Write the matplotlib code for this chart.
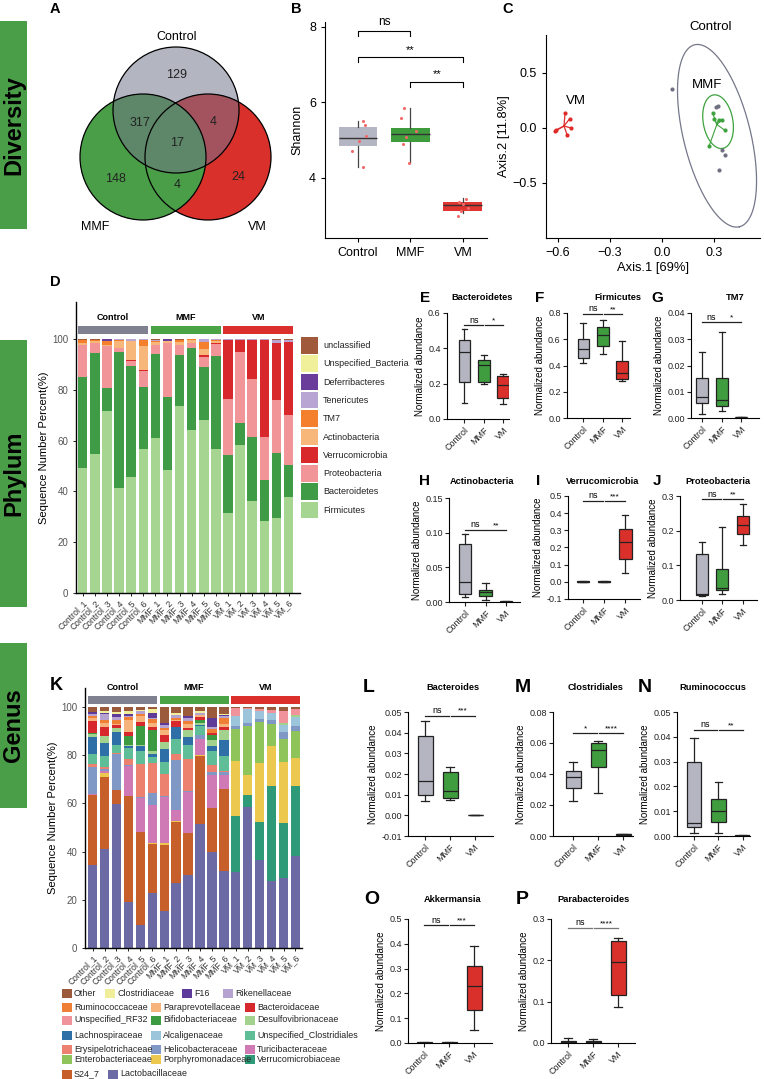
import numpy as np
import matplotlib.pyplot as plt
from matplotlib.patches import Circle, Rectangle

plt.rcParams['font.family'] = ['Liberation Sans', 'DejaVu Sans']
plt.rcParams['axes.linewidth'] = 0.8

W, H = 764, 1079

groups = ['Control', 'MMF', 'VM']
box_colors = ['#b4b5c1', '#3f9c3f', '#d9302b']
head_colors = ['#7f8190', '#4aa345', '#db2f2b']
samples = [f'{g}_{i}' for g in groups for i in range(1, 7)]

# A: venn
venn_counts = [129, 317, 4, 17, 148, 4, 24]   # C, C&M, C&V, all, M, M&V, V

# B: shannon (whislo, q1, med, q3, whishi)
shannon_box = [[4.29, 4.84, 5.05, 5.34, 5.50],
               [4.39, 4.95, 5.16, 5.32, 5.84],
               [3.08, 3.13, 3.29, 3.37, 3.47]]
shannon_pts = [[5.50, 5.41, 5.12, 4.97, 4.72, 4.29],
               [5.86, 5.60, 5.24, 5.08, 4.90, 4.39],
               [3.37, 3.44, 3.32, 3.21, 3.00, 3.12]]
shannon_jit = [[0.10, 0.13, 0.15, 0.02, -0.11, 0.10],
               [-0.13, -0.18, 0.10, -0.08, -0.15, -0.02],
               [-0.07, 0.05, 0.01, 0.10, -0.10, -0.03]]

# C: PCoA
pcoa_ctrl = [(0.057, 0.355), (0.32, 0.20), (0.31, 0.19), (0.345, -0.20), (0.36, -0.245), (0.33, -0.38)]
pcoa_mmf = [(0.29, 0.14), (0.30, 0.085), (0.325, 0.075), (0.345, 0.075), (0.36, -0.02), (0.27, -0.165)]
pcoa_vm = [(-0.557, 0.14), (-0.53, 0.085), (-0.525, 0.0), (-0.545, -0.065), (-0.61, -0.02), (-0.615, -0.03)]
ell_ctrl = [(0.316, -0.071), (0.129, -0.827), (0.187, 0.073)]   # centre, half-axis a, half-axis b
ell_mmf = [(0.322, 0.057), (0.027, -0.243), (0.084, 0.024)]

# D: phylum percent, bottom -> top
firmicutes = [49.1, 54.7, 71.7, 41.5, 45.6, 56.6, 61.0, 48.6, 73.7, 64.0, 68.2, 56.6, 31.5, 58.3, 36.4, 28.2, 29.4, 37.8]
bacteroidetes = [36.1, 39.7, 8.9, 53.3, 43.9, 24.4, 33.0, 28.6, 20.0, 32.5, 20.9, 36.6, 22.9, 8.5, 25.2, 16.4, 25.6, 12.6]
proteobacteria = [12.4, 3.9, 16.6, 1.7, 1.8, 6.4, 3.5, 21.4, 4.1, 2.0, 4.0, 5.0, 22.0, 28.2, 22.5, 17.0, 21.0, 19.7]
verrucomicrobia = [0, 0, 0, 0, 0.4, 0.4, 0, 0, 0, 0, 0.5, 0.4, 23.4, 4.8, 15.7, 38.2, 22.6, 28.9]
actinobacteria = [0.9, 0.8, 0.6, 2.8, 7.6, 9.5, 1.2, 0.5, 1.0, 1.1, 2.4, 0.8, 0, 0, 0, 0, 0, 0]
tm7 = [1.0, 0.7, 1.3, 0.4, 0, 2.4, 0.5, 0, 1.0, 0.3, 3.0, 0.4, 0, 0, 0, 0, 0, 0]
tenericutes = [0.3, 0, 0, 0.3, 0.7, 0.3, 0.4, 0, 0, 0, 1.0, 0.2, 0.2, 0.2, 0.2, 0.2, 1.2, 0.8]
deferribacteres = [0, 0, 0.8, 0, 0, 0, 0.2, 0.9, 0, 0, 0, 0, 0, 0, 0, 0, 0, 0]
unspecified_bacteria = [0] * 18
unclassified = [0.2, 0.2, 0.1, 0, 0, 0, 0.2, 0, 0.2, 0.1, 0, 0, 0, 0, 0, 0, 0.2, 0.2]

phylum_names = ['Firmicutes', 'Bacteroidetes', 'Proteobacteria', 'Verrucomicrobia', 'Actinobacteria',
                'TM7', 'Tenericutes', 'Deferribacteres', 'Unspecified_Bacteria', 'unclassified']
phylum_vals = [firmicutes, bacteroidetes, proteobacteria, verrucomicrobia, actinobacteria,
               tm7, tenericutes, deferribacteres, unspecified_bacteria, unclassified]
phylum_colors = ['#a6d592', '#3f9b45', '#f29598', '#d9282c', '#f8b77a',
                 '#f47f2d', '#b9a5d3', '#6a3d9a', '#f0f09a', '#a0593a']

# E-J: phylum boxes (whislo, q1, med, q3, whishi)
bacteroidetes_box = [[0.089, 0.208, 0.379, 0.449, 0.510], [0.197, 0.212, 0.305, 0.335, 0.364], [0.085, 0.117, 0.193, 0.244, 0.256]]
firmicutes_box = [[0.422, 0.455, 0.527, 0.600, 0.724], [0.488, 0.552, 0.629, 0.693, 0.744], [0.284, 0.294, 0.342, 0.432, 0.588]]
tm7_box = [[0.0014, 0.0058, 0.0081, 0.0151, 0.0253], [0.0027, 0.0047, 0.0070, 0.0153, 0.0327], [0.0001, 0.0002, 0.0002, 0.0003, 0.0003]]
actino_box = [[0.007, 0.011, 0.029, 0.083, 0.098], [0.003, 0.009, 0.015, 0.018, 0.027], [0.0003, 0.0005, 0.0006, 0.0008, 0.001]]
verruco_box = [[0.0, 0.0, 0.001, 0.002, 0.002], [0.0, 0.0, 0.001, 0.002, 0.002], [0.05, 0.135, 0.23, 0.31, 0.39]]
proteo_box = [[0.012, 0.014, 0.016, 0.134, 0.166], [0.018, 0.028, 0.035, 0.088, 0.212], [0.16, 0.19, 0.215, 0.241, 0.278]]

# K: genus percent, bottom -> top
lactobacillaceae = [34.6, 41.0, 59.8, 19.1, 9.7, 22.8, 15.5, 27.0, 30.4, 51.6, 39.8, 31.8, 31.4, 58.4, 36.4, 27.9, 29.0, 38.0]
s24_7 = [28.7, 30.0, 5.9, 43.8, 38.4, 20.4, 27.4, 25.1, 17.3, 27.9, 18.3, 34.2, 0, 0, 0, 0, 0, 0]
verrucomicrobiaceae = [0, 0, 0, 0, 0, 0, 0, 0, 0, 0, 0, 0, 23.5, 4.9, 15.7, 39.5, 22.9, 29.1]
porphyromonadaceae = [0, 1.5, 0, 0, 0, 0.3, 0.6, 0.5, 0, 0.8, 0, 0, 22.8, 8.6, 24.7, 16.3, 25.1, 11.7]
enterobacteriaceae = [0, 0, 0, 0, 0, 0, 0, 0, 0, 0, 0, 0, 13.3, 20.4, 16.8, 9.4, 9.7, 11.4]
turicibacteraceae = [0.7, 1.0, 0, 12.5, 14.0, 15.7, 19.0, 4.8, 16.9, 6.6, 13.5, 5.9, 0, 0, 0, 0, 0, 0]
helicobacteraceae = [11.0, 0.7, 14.9, 0.5, 0.4, 5.1, 0.5, 20.7, 0.4, 1.6, 1.4, 1.1, 1.0, 1.0, 1.6, 1.7, 2.8, 1.8]
erysipelotrichaceae = [1.5, 1.0, 0.4, 2.5, 14.0, 12.5, 9.3, 2.4, 13.4, 0, 3.1, 0.5, 0, 0, 0, 0, 0, 0]
unspecified_clostridiales = [4.0, 4.3, 3.4, 4.6, 5.1, 2.3, 4.7, 6.4, 6.0, 3.5, 5.5, 6.0, 0, 0, 0, 0, 0, 0]
alcaligenaceae = [0, 0, 0, 0, 0, 0, 0, 0, 0, 0, 0, 0, 4.1, 6.0, 3.3, 2.7, 3.2, 3.7]
lachnospiraceae = [7.0, 5.5, 5.1, 0.7, 2.1, 1.5, 5.6, 4.8, 3.2, 0.7, 2.4, 6.7, 0, 0, 0, 0, 0, 0]
desulfovibrionaceae = [1.5, 2.8, 2.0, 0.6, 0.6, 1.0, 2.7, 0, 2.7, 0.8, 2.5, 4.4, 0, 0, 0, 0, 0.7, 0.8]
bifidobacteriaceae = [0.3, 0, 0, 3.5, 8.0, 9.0, 0, 0, 0, 1.0, 1.8, 0, 0, 0, 0, 0, 0, 0]
unspecified_rf32 = [0, 0, 0, 0, 0, 0, 0, 0, 0, 0, 0, 0, 3.5, 0.5, 0.8, 1.4, 4.8, 2.5]
bacteroidaceae = [4.7, 3.8, 1.0, 1.7, 1.3, 1.0, 3.2, 2.4, 1.2, 1.3, 1.0, 1.2, 0, 0, 0, 0, 0, 0]
paraprevotellaceae = [1.5, 1.9, 0.5, 5.2, 2.6, 1.9, 2.0, 0.4, 1.3, 1.0, 0, 1.0, 0, 0, 0, 0, 0, 0]
ruminococcaceae = [0.7, 1.2, 1.5, 1.0, 0.8, 1.5, 1.0, 1.0, 1.5, 0, 1.5, 2.5, 0, 0, 0, 0, 0, 0]
rikenellaceae = [1.0, 2.5, 1.5, 0.5, 1.2, 0.5, 1.0, 1.0, 1.0, 0.7, 1.0, 1.0, 0, 0, 0, 0, 0, 0]
f16 = [0.8, 0.5, 1.0, 0.8, 0, 2.0, 0.8, 0, 1.0, 0, 3.5, 0.3, 0, 0, 0, 0, 0, 0]
clostridiaceae = [0, 0.6, 1.0, 1.2, 0.6, 1.5, 0, 1.0, 0, 0.7, 0, 0.4, 0, 0, 0, 0, 0, 0]
other = [2.0, 1.7, 2.0, 1.8, 1.2, 1.0, 6.7, 2.5, 3.7, 1.8, 4.7, 3.0, 0.4, 0.2, 0.7, 1.1, 1.8, 1.0]

genus_names = ['Lactobacillaceae', 'S24_7', 'Verrucomicrobiaceae', 'Porphyromonadaceae', 'Enterobacteriaceae',
               'Turicibacteraceae', 'Helicobacteraceae', 'Erysipelotrichaceae', 'Unspecified_Clostridiales',
               'Alcaligenaceae', 'Lachnospiraceae', 'Desulfovibrionaceae', 'Bifidobacteriaceae',
               'Unspecified_RF32', 'Bacteroidaceae', 'Paraprevotellaceae', 'Ruminococcaceae',
               'Rikenellaceae', 'F16', 'Clostridiaceae', 'Other']
genus_vals = [lactobacillaceae, s24_7, verrucomicrobiaceae, porphyromonadaceae, enterobacteriaceae,
              turicibacteraceae, helicobacteraceae, erysipelotrichaceae, unspecified_clostridiales,
              alcaligenaceae, lachnospiraceae, desulfovibrionaceae, bifidobacteriaceae, unspecified_rf32,
              bacteroidaceae, paraprevotellaceae, ruminococcaceae, rikenellaceae, f16, clostridiaceae, other]
genus_colors = ['#6b6aa5', '#c65f2a', '#2e9a78', '#ecc84f', '#8fc45a', '#d07ab5', '#7f98c6', '#ec8170',
                '#5fbd98', '#9cc5dc', '#2e6fa8', '#a3d18e', '#3c9a41', '#f0939a', '#d7282d', '#f6b37c',
                '#ef7f34', '#b7a3d1', '#5e3b98', '#f0ee9a', '#9c5a3c']

# L-P: genus boxes
bacteroides_box = [[0.0067, 0.0096, 0.0166, 0.0386, 0.0455], [0.0075, 0.0085, 0.0117, 0.0210, 0.0234], [0.0, 0.0, 0.0, 0.0002, 0.0002]]
clostridiales_box = [[0.0226, 0.0308, 0.0383, 0.0422, 0.0476], [0.028, 0.0448, 0.0556, 0.0603, 0.061], [0.0005, 0.0007, 0.001, 0.0013, 0.0015]]
ruminococcus_box = [[0.0013, 0.0036, 0.0054, 0.030, 0.0395], [0.0012, 0.0058, 0.0102, 0.0151, 0.0217], [0.0001, 0.0002, 0.0002, 0.0003, 0.0003]]
akkermansia_box = [[0.0, 0.001, 0.002, 0.003, 0.003], [0.0, 0.001, 0.002, 0.003, 0.003], [0.052, 0.134, 0.229, 0.31, 0.391]]
parabacteroides_box = [[0.0, 0.001, 0.003, 0.005, 0.012], [0.0, 0.001, 0.002, 0.004, 0.009], [0.087, 0.116, 0.196, 0.247, 0.255]]

fig = plt.figure(figsize=(W / 100, H / 100), dpi=100)


def add_ax(x0, y0, x1, y1):
    ax = fig.add_axes([x0 / W, 1 - y1 / H, (x1 - x0) / W, (y1 - y0) / H])
    ax.set_facecolor('none')
    return ax


def ftext(x, y, s, **kw):
    fig.text(x / W, 1 - y / H, s, **kw)


bg = add_ax(0, 0, W, H)
bg.set_xlim(0, W)
bg.set_ylim(H, 0)
bg.axis('off')

# section labels
for (y0, y1), lab in zip([(21, 229), (340, 607), (643, 808)], ['Diversity', 'Phylum', 'Genus']):
    bg.add_patch(Rectangle((0, y0), 27, y1 - y0, color='#4a9e47', lw=0))
    bg.text(13.5, (y0 + y1) / 2, lab, rotation=90, ha='center', va='center', fontsize=17, fontweight='bold')

# panel letters
letters = {'A': (55, 9, 10.5), 'B': (296, 9, 10.5), 'C': (508, 9, 10.5), 'D': (55, 282, 10.5),
           'E': (425, 298, 11), 'F': (540, 298, 11), 'G': (657, 298, 11),
           'H': (425, 481, 11), 'I': (538, 481, 11), 'J': (657, 481, 11),
           'K': (56, 685, 13), 'L': (369, 688, 14), 'M': (523, 688, 14), 'N': (645, 688, 14),
           'O': (372, 899, 14), 'P': (522, 899, 14)}
for k, (x, y, fs) in letters.items():
    bg.text(x, y, k, ha='center', va='center', fontsize=fs, fontweight='bold')

# ---- A: Venn
centres = [(176, 110), (143, 157), (208, 157)]
rad = 63
bg.add_patch(Circle(centres[2], rad, color='#d9302b', lw=0))
bg.add_patch(Circle(centres[1], rad, color='#4a9e47', lw=0))
bg.add_patch(Circle(centres[0], rad, color='#71738a', alpha=0.53, lw=0))
for c in centres:
    bg.add_patch(Circle(c, rad, fill=False, ec='black', lw=0.9))
num_pos = [(177, 75), (140, 123), (213, 122), (177, 143), (116, 179), (177, 185), (238, 177)]
for (x, y), n in zip(num_pos, venn_counts):
    bg.text(x, y, str(n), ha='center', va='center', fontsize=9, color='#222222')
for (x, y), g in zip([(177, 37), (95, 227), (257, 227)], groups):
    bg.text(x, y, g, ha='center', va='center', fontsize=9)

# ---- B: Shannon
ax = add_ax(325, 22, 487, 238)
bx = [dict(whislo=s[0], q1=s[1], med=s[2], q3=s[3], whishi=s[4], fliers=[]) for s in shannon_box]
parts = ax.bxp(bx, positions=[1, 2, 3], widths=0.74, patch_artist=True, showcaps=False,
               boxprops=dict(lw=0), medianprops=dict(color='#333333', lw=1.0),
               whiskerprops=dict(color='#444444', lw=0.9))
for p, c in zip(parts['boxes'], ['#b5b6c3', '#3e9c3d', '#e03531']):
    p.set_facecolor(c)
    p.set_edgecolor('none')
for i, (pts, jit) in enumerate(zip(shannon_pts, shannon_jit)):
    ax.scatter(np.array(jit) + i + 1, pts, s=5, color='#f26b6b', zorder=4, lw=0)
ax.set_xlim(0.37, 3.46)
ax.set_ylim(2.41, 8.13)
ax.set_yticks([4, 6, 8])
ax.set_xticks([1, 2, 3])
ax.set_xticklabels(groups)
ax.tick_params(labelsize=9, length=3, width=0.8)
ax.set_ylabel('Shannon', fontsize=9, labelpad=4)
for s in ['top', 'right']:
    ax.spines[s].set_visible(False)
for (a, b, y, txt) in [(1, 2, 7.9, 'ns'), (1, 3, 7.2, '**'), (2, 3, 6.55, '**')]:
    ax.plot([a, a, b, b], [y - 0.14, y, y, y - 0.14], color='black', lw=0.8, clip_on=False)
    ax.text((a + b) / 2, y + 0.06, txt, ha='center', va='bottom', fontsize=8.5 if txt == 'ns' else 8)

# ---- C: PCoA
ax = add_ax(546, 35, 760, 238)


def draw_ellipse(ax, ell, color):
    t = np.linspace(0, 2 * np.pi, 200)
    c, a, b = [np.array(v) for v in ell]
    xy = c[:, None] + a[:, None] * np.cos(t) + b[:, None] * np.sin(t)
    ax.plot(xy[0], xy[1], color=color, lw=0.9)


def spider(ax, pts, color, lw):
    pts = np.array(pts)
    cen = pts.mean(0)
    for p in pts:
        ax.plot([cen[0], p[0]], [cen[1], p[1]], color=color, lw=lw)


draw_ellipse(ax, ell_ctrl, '#75778a')
draw_ellipse(ax, ell_mmf, '#3ea23e')
spider(ax, pcoa_mmf, '#3ea23e', 0.8)
spider(ax, pcoa_vm, '#e02b2b', 0.9)
for pts, col in [(pcoa_ctrl, '#6f7183'), (pcoa_mmf, '#3ea23e'), (pcoa_vm, '#e02b2b')]:
    pts = np.array(pts)
    ax.scatter(pts[:, 0], pts[:, 1], s=9, color=col, zorder=4, lw=0)
ax.set_xlim(-0.667, 0.563)
ax.set_ylim(-1.0, 0.845)
ax.set_xticks([-0.6, -0.3, 0.0, 0.3])
ax.set_yticks([-0.5, 0.0, 0.5])
ax.tick_params(labelsize=9, length=3, width=0.8)
ax.set_xlabel('Axis.1 [69%]', fontsize=9.3, labelpad=2)
ax.set_ylabel('Axis.2 [11.8%]', fontsize=9.3, labelpad=2)
for s in ['top', 'right']:
    ax.spines[s].set_visible(False)
ftext(711, 27, 'Control', ha='center', va='center', fontsize=9.5)
ftext(707, 85, 'MMF', ha='center', va='center', fontsize=9.5)
ftext(576, 101, 'VM', ha='center', va='center', fontsize=9.5)


# ---- stacked bar helper
def stacked(px, names, vals, colors, ylim_top, head_lo, head_hi, head_txt, xlim):
    ax = add_ax(*px)
    x = np.arange(18)
    bottom = np.zeros(18)
    for v, c in zip(vals, colors):
        ax.bar(x, v, 0.78, bottom=bottom, color=c, lw=0)
        bottom += np.array(v)
    for g in range(3):
        ax.add_patch(Rectangle((6 * g - 0.39, head_lo), 5.78, head_hi - head_lo, color=head_colors[g], lw=0,
                               clip_on=False))
        ax.text(6 * g + 2.5, head_txt, groups[g], ha='center', va='center', fontsize=6.5, fontweight='bold')
    ax.set_xlim(*xlim)
    ax.set_ylim(0, ylim_top)
    ax.set_yticks([0, 20, 40, 60, 80, 100])
    ax.set_xticks(x)
    ax.set_xticklabels(samples, rotation=45, ha='right', rotation_mode='anchor', fontsize=6.2, color='#333333')
    ax.tick_params(axis='y', labelsize=7, labelcolor='#555555', length=2, width=0.6)
    ax.tick_params(axis='x', length=2, width=0.6, pad=1.5)
    ax.set_ylabel('Sequence Number Percent(%)', fontsize=8, labelpad=2)
    for s in ['top', 'right']:
        ax.spines[s].set_visible(False)
    ax.spines['left'].set_linewidth(1.0)
    ax.spines['bottom'].set_linewidth(1.0)
    return ax


# ---- D
stacked((76, 302, 300, 593), phylum_names, phylum_vals, phylum_colors, 114.6, 102.0, 105.0, 108.6, (-0.56, 17.95))
for i, (name, col) in enumerate(zip(phylum_names[::-1], phylum_colors[::-1])):
    y0 = 337 + i * 18.3
    bg.add_patch(Rectangle((301, y0), 17, 16.5, color=col, lw=0))
    bg.text(323, y0 + 8.5, name, va='center', fontsize=6.5, color='#222222')

# ---- K
stacked((85, 688, 302, 948), genus_names, genus_vals, genus_colors, 107.9, 101.4, 104.5, 108.2, (-0.64, 17.55))
leg_rows = [['Other', 'Clostridiaceae', 'F16', 'Rikenellaceae'],
            ['Ruminococcaceae', 'Paraprevotellaceae', 'Bacteroidaceae'],
            ['Unspecified_RF32', 'Bifidobacteriaceae', 'Desulfovibrionaceae'],
            ['Lachnospiraceae', 'Alcaligenaceae', 'Unspecified_Clostridiales'],
            ['Erysipelotrichaceae', 'Helicobacteraceae', 'Turicibacteraceae'],
            ['Enterobacteriaceae', 'Porphyromonadaceae', 'Verrucomicrobiaceae'],
            ['S24_7', 'Lactobacillaceae']]
row_x = [[67, 110, 187, 228], [67, 156, 250], [67, 156, 250], [67, 156, 250],
         [67, 156, 250], [67, 156, 250], [67, 113]]
row_y = [993, 1007, 1020, 1035, 1049, 1059, 1074]
gcol = dict(zip(genus_names, genus_colors))
for names, xs, y in zip(leg_rows, row_x, row_y):
    for n, x in zip(names, xs):
        bg.add_patch(Rectangle((x - 5, y - 4.5), 10, 9, color=gcol[n], lw=0))
        bg.text(x + 7, y, n, va='center', fontsize=6.4, color='#222222')


# ---- small box panels
def box_panel(px, stats, ylim, xlim, yticks, fmt, title, title_xy, sig_y, sig_txt, sig_col='#222222'):
    ax = add_ax(*px)
    bx = [dict(whislo=s[0], q1=s[1], med=s[2], q3=s[3], whishi=s[4], fliers=[]) for s in stats]
    parts = ax.bxp(bx, positions=[1, 2, 3], widths=0.6, patch_artist=True, capwidths=0.3,
                   boxprops=dict(lw=0.9, edgecolor='#222222'),
                   medianprops=dict(color='#222222', lw=0.9),
                   whiskerprops=dict(color='#222222', lw=0.9),
                   capprops=dict(color='#222222', lw=0.9))
    for p, c in zip(parts['boxes'], box_colors):
        p.set_facecolor(c)
    ax.set_xlim(*xlim)
    ax.set_ylim(*ylim)
    ax.set_yticks(yticks)
    ax.set_yticklabels([fmt % v for v in yticks])
    ax.set_xticks([1, 2, 3])
    ax.set_xticklabels(groups, rotation=45, ha='right', rotation_mode='anchor')
    ax.tick_params(labelsize=6.5, length=3, width=0.8, pad=1.5, colors='#222222')
    ax.set_ylabel('Normalized abundance', fontsize=7, labelpad=2)
    for s in ['top', 'right']:
        ax.spines[s].set_visible(False)
    for (a, b), txt in zip([(1, 1.96), (2.04, 3)], sig_txt):
        ax.plot([a, b], [sig_y, sig_y], color=sig_col, lw=0.9, clip_on=False)
        ax.annotate(txt, ((a + b) / 2, sig_y), xytext=(0, 0.5), textcoords='offset points',
                    ha='center', va='bottom', fontsize=6.5 if txt == 'ns' else 6)
    ftext(title_xy[0], title_xy[1], title, ha='center', va='center', fontsize=6.7, fontweight='bold')
    return ax


box_panel((447, 313, 509, 419), bacteroidetes_box, (0, 0.6), (0.1, 3.3), [0, 0.2, 0.4, 0.6], '%.1f',
          'Bacteroidetes', (482, 298), 0.53, ['ns', '*'])
box_panel((567, 313, 630, 418), firmicutes_box, (0, 0.8), (0.16, 3.4), [0, 0.2, 0.4, 0.6, 0.8], '%.1f',
          'Firmicutes', (618, 298), 0.795, ['ns', '**'])
box_panel((691, 313, 759, 418), tm7_box, (0, 0.04), (0.44, 3.9), [0, 0.01, 0.02, 0.03, 0.04], '%.2f',
          'TM7', (735, 298), 0.0364, ['ns', '*'])
box_panel((449, 498, 520, 602), actino_box, (0, 0.15), (0.22, 3.68), [0, 0.05, 0.10, 0.15], '%.2f',
          'Actinobacteria', (482, 481), 0.104, ['ns', '**'])
box_panel((568, 496, 640, 599), verruco_box, (-0.1, 0.5), (0.29, 3.7), [-0.1, 0, 0.1, 0.2, 0.3, 0.4, 0.5], '%.1f',
          'Verrucomicrobia', (603, 481), 0.47, ['ns', '***'])
box_panel((680, 496, 757, 600), proteo_box, (0, 0.3), (-0.07, 3.7), [0, 0.1, 0.2, 0.3], '%.1f',
          'Proteobacteria', (718, 481), 0.29, ['ns', '**'])

box_panel((408, 712, 493, 836), bacteroides_box, (-0.01, 0.05), (0.32, 3.72),
          [-0.01, 0, 0.01, 0.02, 0.03, 0.04, 0.05], '%.2f', 'Bacteroides', (453, 688), 0.0483, ['ns', '***'])
box_panel((553, 712, 633, 836), clostridiales_box, (0, 0.08), (0.2, 3.4), [0, 0.02, 0.04, 0.06, 0.08], '%.2f',
          'Clostridiales', (596, 688), 0.0666, ['*', '****'])
box_panel((677, 712, 750, 836), ruminococcus_box, (0, 0.05), (0.31, 3.3), [0, 0.01, 0.02, 0.03, 0.04, 0.05], '%.2f',
          'Ruminococcus', (713, 688), 0.0427, ['ns', '**'])
box_panel((408, 919, 492, 1043), akkermansia_box, (0, 0.5), (0.36, 3.72), [0, 0.1, 0.2, 0.3, 0.4, 0.5], '%.1f',
          'Akkermansia', (453, 899), 0.475, ['ns', '***'])
box_panel((551, 919, 635, 1043), parabacteroides_box, (0, 0.3), (0.32, 3.68), [0, 0.1, 0.2, 0.3], '%.1f',
          'Parabacteroides', (594, 899), 0.278, ['ns', '****'], sig_col='#777777')

fig.savefig('out.png', dpi=100)
